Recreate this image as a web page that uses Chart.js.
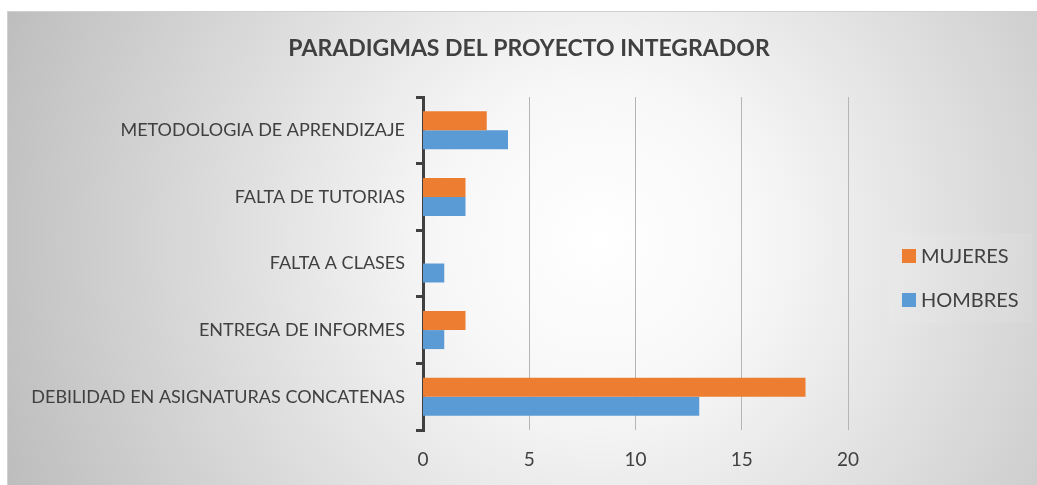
<!DOCTYPE html>
<html>
<head>
<meta charset="utf-8">
<script src="https://cdn.jsdelivr.net/npm/chart.js@4/dist/chart.umd.min.js"></script>
<style>
html,body{margin:0;padding:0;background:#fff;}
#wrap{width:1037px;height:485px;position:relative;}
</style>
</head>
<body>
<div id="wrap"><canvas id="c" width="1037" height="485"></canvas></div>
<script>
const titleText = 'PARADIGMAS DEL PROYECTO INTEGRADOR';
const categories = ['METODOLOGIA DE APRENDIZAJE','FALTA DE TUTORIAS','FALTA A CLASES','ENTREGA DE INFORMES','DEBILIDAD EN ASIGNATURAS CONCATENAS'];
const seriesNames = ['MUJERES','HOMBRES'];
const mujeres = [3, 2, 0, 2, 18];
const hombres = [4, 2, 1, 1, 13];
const xTicks = [0, 5, 10, 15, 20];
const colors = ['#ED7D31', '#5B9BD5'];

const FONT = 'Lato, "Open Sans", sans-serif';
const TEXT = '#404040';

const bgPlugin = {
  id: 'bg',
  beforeDraw(chart) {
    const ctx = chart.ctx;
    ctx.save();
    ctx.fillStyle = '#ffffff';
    ctx.fillRect(0, 0, chart.width, chart.height);
    const g = ctx.createRadialGradient(600, 240, 0, 600, 240, 640);
    g.addColorStop(0, '#ffffff');
    g.addColorStop(0.25, '#f7f7f7');
    g.addColorStop(1, '#bdbdbd');
    ctx.fillStyle = g;
    ctx.fillRect(7, 11, 1030, 474);
    ctx.strokeStyle = '#d0d0d0';
    ctx.lineWidth = 1;
    ctx.strokeRect(7.5, 11.5, 1030, 474);
    ctx.restore();
  },
  afterDraw(chart) {
    const ctx = chart.ctx;
    ctx.save();
    // title
    ctx.fillStyle = TEXT;
    ctx.font = 'bold 23px ' + FONT;
    ctx.textAlign = 'center';
    ctx.textBaseline = 'middle';
    ctx.fillText(titleText, 529, 49);
    // legend
    ctx.fillStyle = 'rgba(255,255,255,0.08)';
    ctx.fillRect(889, 233, 143, 90);
    ctx.font = '20px ' + FONT;
    ctx.textAlign = 'left';
    const ys = [256, 300];
    chart.data.datasets.forEach((ds, i) => {
      ctx.fillStyle = ds.backgroundColor;
      ctx.fillRect(902, ys[i] - 7, 14, 14);
      ctx.fillStyle = TEXT;
      ctx.fillText(ds.label, 921, ys[i] + 1);
    });
    ctx.restore();
  }
};

new Chart(document.getElementById('c'), {
  type: 'bar',
  data: {
    labels: categories,
    datasets: [
      { label: seriesNames[0], data: mujeres, backgroundColor: colors[0], categoryPercentage: 0.57, barPercentage: 1.0 },
      { label: seriesNames[1], data: hombres, backgroundColor: colors[1], categoryPercentage: 0.57, barPercentage: 1.0 }
    ]
  },
  plugins: [bgPlugin],
  options: {
    indexAxis: 'y',
    responsive: false,
    animation: false,
    layout: { padding: { left: 0, right: 189, top: 97, bottom: 0 } },
    plugins: { legend: { display: false }, title: { display: false }, tooltip: { enabled: false } },
    scales: {
      x: {
        min: 0, max: 20,
        afterBuildTicks(scale) { scale.ticks = xTicks.map(v => ({ value: v })); },
        afterFit(scale) { scale.height = 55; },
        grid: { color: '#b5b5b5', lineWidth: (c) => c.tick && c.tick.value === 0 ? 0 : 1, drawTicks: false },
        border: { display: false },
        ticks: { color: TEXT, font: { family: FONT, size: 19 }, padding: 18 }
      },
      y: {
        afterFit(scale) { scale.width = 423; },
        grid: { offset: true, drawOnChartArea: false, drawTicks: true, tickLength: 7, color: '#404040', lineWidth: 3 },
        border: { display: true, color: '#404040', width: 3 },
        ticks: { color: TEXT, font: { family: FONT, size: 18 }, padding: 11 }
      }
    }
  }
});
</script>
</body>
</html>
